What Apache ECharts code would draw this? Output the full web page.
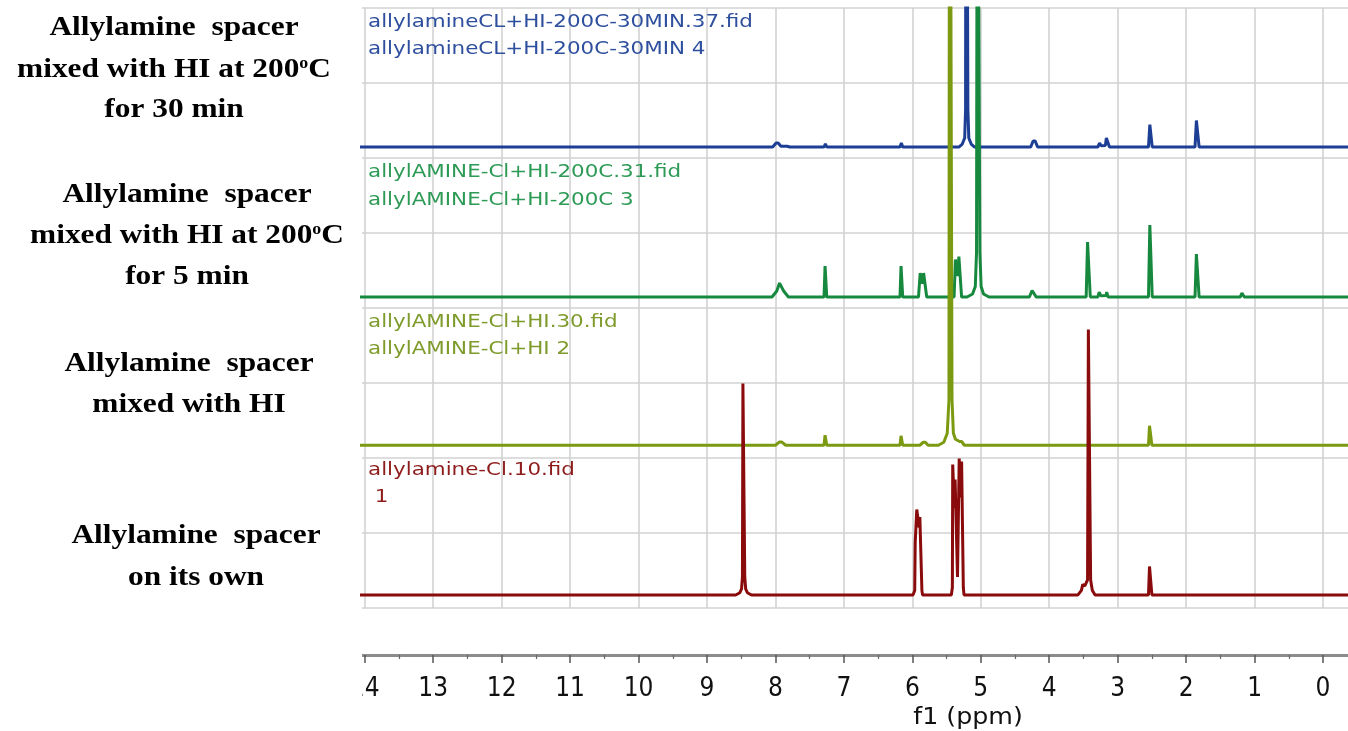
<!DOCTYPE html>
<html>
<head>
<meta charset="utf-8">
<script src="https://cdn.jsdelivr.net/npm/echarts/dist/echarts.min.js"></script>
<style>
html,body{margin:0;padding:0;background:#fff;}
#chart{width:1348px;height:731px;}
</style>
</head>
<body>
<div id="chart"></div>
<script>
// ---- DATA (chemical shift ppm, intensity; 100 units = one panel height) ----
const tickValues = [0,1,2,3,4,5,6,7,8,9,10,11,12,13,14];
const minorTickValues = [0.5,1.5,2.5,3.5,4.5,5.5,6.5,7.5,8.5,9.5,10.5,11.5,12.5,13.5];

const spectrumNames = [
  ['allylamine-Cl.10.fid', ' 1'],
  ['allylAMINE-Cl+HI.30.fid', 'allylAMINE-Cl+HI 2'],
  ['allylAMINE-Cl+HI-200C.31.fid', 'allylAMINE-Cl+HI-200C 3'],
  ['allylamineCL+HI-200C-30MIN.37.fid', 'allylamineCL+HI-200C-30MIN 4']
];

const sampleLabels = [
  ['Allylamine  spacer', 'on its own'],
  ['Allylamine  spacer', 'mixed with HI'],
  ['Allylamine  spacer', 'mixed with HI at 200{s|o}C', 'for 5 min'],
  ['Allylamine  spacer', 'mixed with HI at 200{s|o}C', 'for 30 min']
];

const redSpectrum = [
  [14.1,0],
  [8.58,0],[8.52,1.5],[8.495,4],[8.482,12],[8.475,141],[8.455,141],[8.448,12],[8.435,4],[8.41,1.5],[8.35,0],
  [5.99,0],[5.965,3],[5.958,35],[5.935,57],[5.915,57],[5.90,45],[5.89,52],[5.875,52],[5.86,3],[5.85,0],
  [5.43,0],[5.415,5],[5.41,87],[5.395,87],[5.385,58],[5.375,77],[5.36,77],[5.34,12],[5.325,12],[5.315,91],[5.30,91],[5.29,65],[5.28,89],[5.265,89],[5.255,5],[5.245,0],
  [3.58,0],[3.53,3],[3.51,7],[3.48,6],[3.44,10],[3.428,177],[3.405,177],[3.395,10],[3.37,3],[3.33,0],
  [2.55,0],[2.535,19],[2.515,19],[2.50,0],
  [-0.5,0]
];

const oliveSpectrum = [
  [14.1,0],
  [8.00,0],[7.94,2.2],[7.91,2.2],[7.85,0],
  [7.29,0],[7.275,6.7],[7.265,6.7],[7.25,0],
  [6.18,0],[6.165,6.3],[6.155,6.3],[6.14,0],
  [5.89,0],[5.84,2],[5.81,2],[5.77,0],
  [5.62,0],[5.54,2],[5.49,8],[5.465,30],[5.455,600],[5.43,600],[5.42,30],[5.40,8],[5.37,4],[5.31,2.5],[5.28,2.5],[5.24,0],
  [2.55,0],[2.535,13],[2.515,13],[2.50,0],
  [1.20,0],[1.18,0.7],[1.16,0],
  [-0.5,0]
];

const greenSpectrum = [
  [14.1,0],
  [8.05,0],[7.98,4],[7.94,9.3],[7.92,9.3],[7.88,4],[7.81,0],
  [7.29,0],[7.275,20.7],[7.265,20.7],[7.25,0],
  [6.18,0],[6.165,20.7],[6.155,20.7],[6.14,0],
  [5.91,0],[5.885,16],[5.865,16],[5.85,9],[5.835,16],[5.815,16],[5.79,0],
  [5.39,0],[5.37,25],[5.35,25],[5.335,14],[5.32,27],[5.30,27],[5.28,0],
  [5.20,0],[5.12,2],[5.08,7],[5.062,30],[5.05,400],[5.025,400],[5.013,30],[4.995,7],[4.96,2],[4.88,0],
  [4.29,0],[4.25,4.4],[4.23,4.4],[4.19,0],
  [3.46,0],[3.44,36.7],[3.425,36.7],[3.40,0],
  [3.29,0],[3.27,3.3],[3.245,0.8],[3.17,1],[3.16,3.3],[3.14,0],
  [2.85,0],[2.83,1.3],[2.81,0],
  [2.55,0],[2.53,48],[2.515,48],[2.495,0],
  [2.03,0],[2.01,1.3],[1.99,0],
  [1.87,0],[1.85,28.7],[1.83,28.7],[1.81,0],
  [1.21,0],[1.185,2.7],[1.175,2.7],[1.15,0],
  [-0.5,0]
];

const blueSpectrum = [
  [14.1,0],
  [8.04,0],[7.99,2.7],[7.96,2.7],[7.92,0.5],[7.83,0.5],[7.81,0.9],[7.79,0],
  [7.29,0],[7.27,2.2],[7.25,0],
  [6.18,0],[6.16,2.7],[6.14,0],
  [5.32,0],[5.27,2],[5.235,6],[5.222,25],[5.215,400],[5.195,400],[5.188,25],[5.175,6],[5.14,2],[5.09,0],
  [4.27,0],[4.235,4],[4.205,4],[4.17,0],
  [3.29,0],[3.265,2.7],[3.24,0.8],[3.18,1],[3.165,6],[3.145,6],[3.12,0],
  [2.85,0],[2.83,1.3],[2.81,0],
  [2.55,0],[2.53,15],[2.515,15],[2.495,0],
  [2.03,0],[2.01,1],[1.99,0],
  [1.87,0],[1.85,17.7],[1.83,17.7],[1.81,0],
  [1.20,0],[1.18,0.7],[1.16,0],
  [-0.5,0]
];

// ---- LAYOUT / STYLE ----
const spectra = [redSpectrum, oliveSpectrum, greenSpectrum, blueSpectrum];
const baselineOffsets = [8.7, 108.5, 207.3, 307.3];
const lineColors = ['#8a0b0b', '#7b9a12', '#17893e', '#1c3f95'];
const textColors = ['#8e1c1c', '#7e9b2c', '#2d9a56', '#2e4f9e'];
const nameY = [[470, 497], [322, 349], [172, 200], [22, 49]];
const sampleCx = [196, 189, 187, 174];
const sampleYs = [[536, 578], [364, 405], [195, 236, 277], [28, 70, 110]];

const chart = echarts.init(document.getElementById('chart'), null, {renderer: 'canvas'});

const drawOrder = [3, 2, 1, 0]; // blue, green, olive, red (red on top)
const series = drawOrder.map(i => ({
  type: 'line',
  xAxisIndex: 0,
  yAxisIndex: 0,
  showSymbol: false,
  symbol: 'none',
  animation: false,
  clip: true,
  lineStyle: {color: lineColors[i], width: 3},
  data: spectra[i].map(p => [p[0], baselineOffsets[i] + p[1]])
}));

const graphic = [];
// white mask that crops the leftmost axis label, as in the original figure
graphic.push({type: 'rect', left: 0, top: 640, z: 100, shape: {x: 0, y: 0, width: 362, height: 91}, style: {fill: '#fff'}});

spectrumNames.forEach((lines, i) => {
  lines.forEach((t, k) => {
    graphic.push({
      type: 'text', x: 368, y: nameY[i][k], scaleX: 1.19, z: 50,
      style: {text: t, fontSize: 18, fontFamily: 'DejaVu Sans', fill: textColors[i],
        align: 'left', verticalAlign: 'middle', textAlign: 'left', textVerticalAlign: 'middle'}
    });
  });
});

sampleLabels.forEach((lines, i) => {
  lines.forEach((t, k) => {
    graphic.push({
      type: 'text', x: sampleCx[i], y: sampleYs[i][k], scaleX: 1.12, z: 110,
      style: {text: t, fontSize: 28, fontWeight: 'bold', fontFamily: 'Liberation Serif', fill: '#000',
        align: 'center', verticalAlign: 'middle', textAlign: 'center', textVerticalAlign: 'middle',
        rich: {s: {fontSize: 16, fontWeight: 'bold', fontFamily: 'Liberation Serif', fill: '#000', verticalAlign: 'top'}}}
    });
  });
});

graphic.push({
  type: 'text', x: 968, y: 718, scaleX: 1.1, z: 50,
  style: {text: 'f1 (ppm)', fontSize: 23, fontFamily: 'DejaVu Sans', fill: '#111',
    align: 'center', verticalAlign: 'middle', textAlign: 'center', textVerticalAlign: 'middle'}
});

const xMin = -0.365, xMax = 14.04;

chart.setOption({
  animation: false,
  backgroundColor: '#fff',
  grid: {left: 362, right: 0, top: 8, bottom: 123, containLabel: false},
  xAxis: [
    {
      type: 'value', gridIndex: 0, min: xMin, max: xMax, inverse: true,
      position: 'bottom', offset: 47,
      axisLine: {show: true, onZero: false, lineStyle: {color: '#8c8c8c', width: 3}},
      axisTick: {show: true, customValues: tickValues, length: 8, lineStyle: {color: '#555', width: 1.5}},
      axisLabel: {show: true, customValues: tickValues, margin: 21, fontSize: 26,
        fontFamily: '"DejaVu Sans Condensed", "DejaVu Sans", sans-serif', color: '#111',
        showMinLabel: true, showMaxLabel: true},
      splitLine: {show: true, lineStyle: {color: '#d2d2d2', width: 1.6}}
    },
    {
      type: 'value', gridIndex: 0, min: xMin, max: xMax, inverse: true,
      position: 'bottom', offset: 47,
      axisLine: {show: false, onZero: false},
      axisTick: {show: true, customValues: minorTickValues, length: 4, lineStyle: {color: '#666', width: 1.2}},
      axisLabel: {show: false},
      splitLine: {show: false}
    }
  ],
  yAxis: {
    type: 'value', min: 0, max: 400, interval: 50,
    axisLine: {show: false}, axisTick: {show: false}, axisLabel: {show: false},
    splitLine: {show: true, lineStyle: {color: '#d2d2d2', width: 1.6}}
  },
  series: series,
  graphic: graphic
});
</script>
</body>
</html>
